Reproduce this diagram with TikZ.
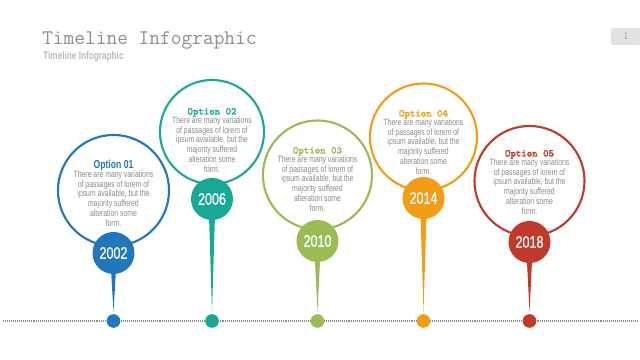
\documentclass[tikz,border=0pt]{standalone}
\usepackage{fontspec}
\usepackage{tikz}
\usetikzlibrary{calc}
\newfontfamily\condfont[FakeStretch=0.75]{Liberation Sans}
\newfontfamily\yearfont[FakeStretch=0.75,FakeBold=0.7]{Liberation Sans}
\newfontfamily\monobold[FakeBold=2.2]{Latin Modern Mono}
\definecolor{optblue}{HTML}{2277BC}
\definecolor{optteal}{HTML}{17A996}
\definecolor{optgreen}{HTML}{9CBB52}
\definecolor{optorange}{HTML}{F39D16}
\definecolor{optred}{HTML}{C0392B}
\definecolor{txtgray}{HTML}{8A8A8A}
\definecolor{headgray}{HTML}{8E8E8E}
\definecolor{boxgray}{HTML}{E2E2E2}
\newcommand{\optbody}{There are many variations\\of passages of lorem of\\ipsum available, but the\\majority suffered\\alteration some\\form.}
\tikzset{
  ring/.style={circle, draw, line width=1.5pt, inner sep=0pt},
  yearbox/.style={circle, inner sep=0pt, minimum size=1.05cm, text=white, font=\yearfont\fontsize{11.9}{12}\selectfont},
  dotmark/.style={circle, inner sep=0pt, minimum size=0.34cm},
  optsans/.style={font=\condfont\bfseries\fontsize{8.2}{9}\selectfont},
  optmono/.style={font=\monobold\fontsize{7.3}{8}\selectfont},
  bodytext/.style={align=center, inner sep=0pt, text=txtgray, font=\condfont\fontsize{6.5}{6.95}\selectfont}
}

\begin{document}
\begin{tikzpicture}[x=0.025cm, y=-0.025cm]
  \useasboundingbox (0,0) rectangle (640,360);
  \node[anchor=west, inner sep=0pt, text=headgray, font=\ttfamily\fontsize{14.8}{16}\selectfont] (title) at (42,40) {Timeline Infographic};
  \node[anchor=west, inner sep=0pt, text=gray!55, font=\condfont\bfseries\fontsize{7.8}{9}\selectfont] (subtitle) at (43,57) {Timeline Infographic};
  \node[fill=boxgray, rounded corners=1.5pt, minimum width=0.75cm, minimum height=0.425cm, inner sep=0pt, text=gray!75, font=\condfont\fontsize{7}{8}\selectfont] (pagenum) at (626,36.5) {1};
  \draw[gray!90, line width=0.8pt, dash pattern=on 0.7pt off 0.7pt] (3,321) -- (637,321);
  \foreach \n/\col/\st/\x/\ry/\r/\yy/\yr/\ty in {01/optblue/optsans/113.5/190.5/55.5/253/2002/165,
      02/optteal/optmono/212/132/52/199/2006/111,
      03/optgreen/optmono/317.5/175/54.5/241/2010/150,
      04/optorange/optmono/423.5/137/53.5/198/2014/113,
      05/optred/optmono/529.5/181/55/242/2018/153}
  {
    \node[ring, draw=\col, minimum size=\r*0.05cm] (ring\n) at (\x,\ry) {};
    \node[\st, anchor=base, inner sep=0pt, text=\col] (ttl\n) at (\x,\ty+3.5) {Option \n};
    \node[bodytext, anchor=north] (txt\n) at (\x,\ty+5.5) {\optbody};
    \node[dotmark, fill=\col] (dot\n) at (\x,321) {};
    \coordinate (yc\n) at (\x,\yy);
    \fill[\col] ($(yc\n)+(-3.5,0)$) -- ($(yc\n)+(3.5,0)$) -- ($(dot\n.north)+(0,-2)$) -- cycle;
    \node[yearbox, fill=\col] (yr\n) at (yc\n) {\yr};
  }
\end{tikzpicture}
\end{document}
